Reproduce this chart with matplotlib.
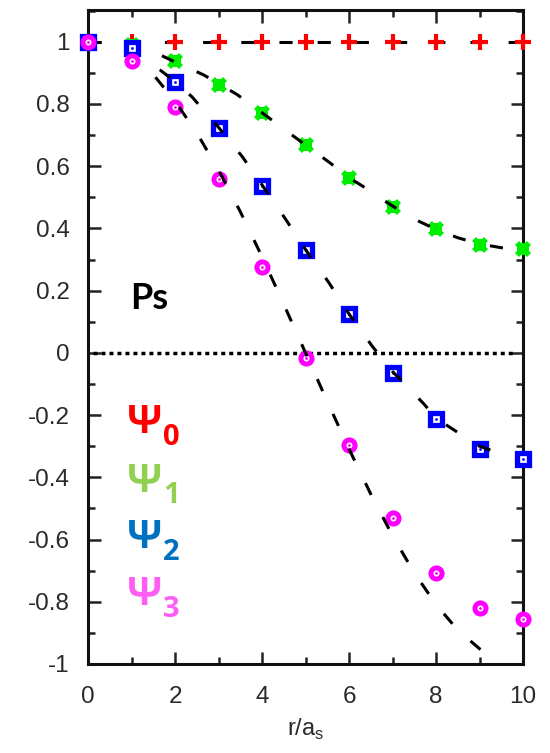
import matplotlib
matplotlib.use("Agg")
import matplotlib.pyplot as plt
from matplotlib.ticker import MultipleLocator, FixedLocator

# ---- data ----
r = [0, 1, 2, 3, 4, 5, 6, 7, 8, 9, 10]
psi0 = [1.0, 1.0, 1.0, 1.0, 1.0, 1.0, 1.0, 1.0, 1.0, 1.0, 1.0]
psi1 = [1.0, 0.99, 0.937, 0.862, 0.771, 0.667, 0.562, 0.470, 0.398, 0.347, 0.333]
psi2 = [1.0, 0.979, 0.872, 0.722, 0.537, 0.331, 0.124, -0.065, -0.212, -0.309, -0.342]
psi3 = [1.0, 0.938, 0.791, 0.559, 0.277, -0.017, -0.296, -0.532, -0.708, -0.819, -0.855]

# dashed guide curves
fit0_x = [0, 10]
fit0_y = [1.0, 1.0]
fit1_x = [1.7, 2.0, 2.65, 3.0, 3.43, 4.0, 4.5, 5.0, 5.56, 6.0, 6.3, 7.0, 7.5, 8.0, 8.5, 9.0, 9.5, 10.0]
fit1_y = [0.955, 0.935, 0.894, 0.866, 0.83, 0.772, 0.72, 0.668, 0.611, 0.563, 0.537, 0.472, 0.43, 0.397, 0.37, 0.35, 0.338, 0.33]
fit2_x = [1.65, 2.0, 2.39, 3.0, 3.55, 4.0, 4.55, 5.0, 5.54, 6.0, 6.53, 7.0, 7.72, 8.0, 8.37, 9.0, 9.3]
fit2_y = [0.91, 0.872, 0.823, 0.725, 0.63, 0.54, 0.428, 0.332, 0.225, 0.125, 0.022, -0.06, -0.164, -0.21, -0.244, -0.30, -0.315]
fit3_x = [1.55, 2.0, 2.5, 3.0, 3.5, 4.0, 4.5, 5.0, 5.5, 6.0, 6.5, 7.0, 7.5, 8.0, 8.5, 9.0, 9.1]
fit3_y = [0.886, 0.809, 0.707, 0.588, 0.454, 0.309, 0.156, 0.0, -0.156, -0.309, -0.454, -0.588, -0.707, -0.809, -0.891, -0.951, -0.96]

zero_x = [0.12, 9.78]
zero_y = [0.0, 0.0]

xticks = [0, 2, 4, 6, 8, 10]
xticklabels = ["0", "2", "4", "6", "8", "10"]
yticks = [-1, -0.8, -0.6, -0.4, -0.2, 0, 0.2, 0.4, 0.6, 0.8, 1]
yticklabels = ["-1", "-0.8", "-0.6", "-0.4", "-0.2", "0", "0.2", "0.4", "0.6", "0.8", "1"]

legend_labels = ["0", "1", "2", "3"]
legend_colors = ["#ff0000", "#92d050", "#0070c0", "#ff5ef5"]

# ---- figure ----
plt.rcParams['font.family'] = ['Liberation Sans', 'DejaVu Sans']
fig = plt.figure(figsize=(5.5, 7.53), dpi=100)
ax = fig.add_axes([0.16, 0.1182, 0.791, 0.8685])
ax.set_xlim(0, 10)
ax.set_ylim(-1, 1.102)

mk = dict(linestyle='none', clip_on=False, zorder=3)
ax.plot(r, psi0, marker='+', ms=11, mew=3, color='#ff0000', **mk)
ax.plot(r, psi1, marker='s', ms=8.5, mew=0, color='#00ee00', **mk)
ax.plot(r, psi1, marker='X', ms=11.5, mew=0, color='#00ee00', **mk)
ax.plot(r, psi2, marker='s', ms=8, mew=3.8, mfc='white', mec='#0000ff', **mk)
ax.plot(r, psi2, marker='o', ms=2, mew=0, color='#0000ff', **mk)
ax.plot(r, psi3, marker='o', ms=8, mew=3.6, mfc='white', mec='#ff00ff', **mk)
ax.plot(r, psi3, marker='o', ms=2, mew=0, color='#ff00ff', **mk)

dash = dict(color='black', lw=2.2, dashes=(4.3, 8.2), zorder=4, clip_on=False)
ax.plot(fit0_x, fit0_y, zorder=2, color='black', lw=2.2, dashes=(4.3, 8.2))
ax.plot(fit1_x, fit1_y, **dash)
ax.plot(fit2_x, fit2_y, **dash)
ax.plot(fit3_x, fit3_y, **dash)

ax.plot(zero_x, zero_y, color='black', lw=2.5, dashes=(1.15, 1.15), zorder=2)

# ticks
ax.xaxis.set_major_locator(FixedLocator(xticks))
ax.set_xticklabels(xticklabels)
ax.xaxis.set_minor_locator(MultipleLocator(1))
ax.yaxis.set_major_locator(FixedLocator(yticks))
ax.set_yticklabels(yticklabels)
ax.yaxis.set_minor_locator(MultipleLocator(0.1))
ax.tick_params(which='both', direction='in', top=True, right=True, width=1.8, color='#222222')
ax.tick_params(which='major', length=9)
ax.tick_params(which='minor', length=5)
ax.tick_params(axis='x', which='major', pad=16, labelsize=17.5, labelcolor='#2a2a2a')
ax.tick_params(axis='y', which='major', pad=13, labelsize=17.5, labelcolor='#2a2a2a')
for s in ax.spines.values():
    s.set_linewidth(2.2)
    s.set_color('#111111')

ax.set_xlabel(r'r/a$_\mathregular{s}$', fontsize=17, color='#2a2a2a', labelpad=6)

# annotations
ax.text(0.97, 0.141, 'Ps', fontsize=26, fontweight='bold', family=['Lato', 'DejaVu Sans'],
        color='black', va='baseline', ha='left')

psi_y = [-0.258, -0.446, -0.628, -0.81]
sub_y = [-0.296, -0.481, -0.666, -0.848]
for lab, col, py, sy in zip(legend_labels, legend_colors, psi_y, sub_y):
    ax.text(0.897, py, '\u03a8', fontsize=29, fontweight='bold', family=['Open Sans', 'DejaVu Sans'],
            color=col, va='baseline', ha='left')
    ax.text(1.73, sy, lab, fontsize=21, fontweight='bold', family=['Open Sans', 'DejaVu Sans'],
            color=col, va='baseline', ha='left')

fig.savefig('out.png', dpi=100)
